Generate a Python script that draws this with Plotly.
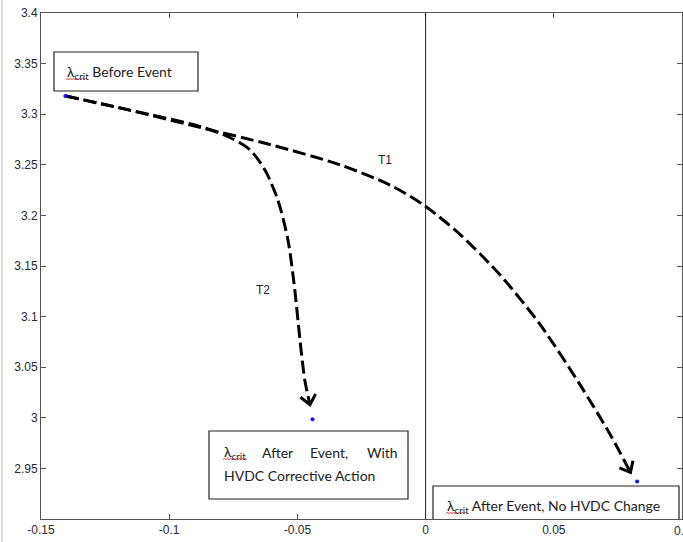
import numpy as np
import plotly.graph_objects as go

# ---------------- data ----------------
x_range = [-0.15, 0.1]
y_range = [2.9, 3.4]
x_ticks = [-0.15, -0.1, -0.05, 0.0, 0.05, 0.1]
x_tick_labels = ["-0.15", "-0.1", "-0.05", "0", "0.05", "0.1"]
y_ticks = [2.95, 3.0, 3.05, 3.1, 3.15, 3.2, 3.25, 3.3, 3.35, 3.4]
y_tick_labels = ["2.95", "3", "3.05", "3.1", "3.15", "3.2", "3.25", "3.3", "3.35", "3.4"]

points_x = [-0.1405, -0.0441, 0.0825]
points_y = [3.318, 2.9985, 2.937]

t1_x = [-0.1404, -0.1154, -0.0881, -0.0607, -0.0334, -0.0139, -0.0006,
        0.0135, 0.0291, 0.0447, 0.0604, 0.0721, 0.0799]
t1_y = [3.318, 3.304, 3.287, 3.270, 3.250, 3.230, 3.210,
        3.181, 3.141, 3.092, 3.032, 2.983, 2.946]

t2_x = [-0.1404, -0.1154, -0.0881, -0.0764, -0.0686, -0.0627, -0.0576,
        -0.0537, -0.0510, -0.0490, -0.0471, -0.0451]
t2_y = [3.318, 3.304, 3.288, 3.277, 3.265, 3.245, 3.215,
        3.176, 3.126, 3.077, 3.037, 3.013]

curve_labels = ["T1", "T2"]
curve_label_x = [-0.0158, -0.0635]
curve_label_y = [3.2547, 3.1263]

# ---------------- layout geometry ----------------
W, H = 683, 542
ML, MR, MT, MB = 41, 1, 13, 23
PW, PH = W - ML - MR, H - MT - MB


def to_px(x, y):
    px = ML + (x - x_range[0]) / (x_range[1] - x_range[0]) * PW
    py = MT + (y_range[1] - y) / (y_range[1] - y_range[0]) * PH
    return px, py


def to_data(px, py):
    x = x_range[0] + (px - ML) / PW * (x_range[1] - x_range[0])
    y = y_range[1] - (py - MT) / PH * (y_range[1] - y_range[0])
    return x, y


def arrow_head(xs, ys, length, half_angle_deg):
    tx, ty = to_px(xs[-1], ys[-1])
    sx, sy = to_px(xs[-2], ys[-2])
    ux, uy = tx - sx, ty - sy
    n = np.hypot(ux, uy)
    ux, uy = ux / n, uy / n
    out_x, out_y = [], []
    for sgn in (1, -1):
        a = np.deg2rad(half_angle_deg) * sgn
        rx = ux * np.cos(a) - uy * np.sin(a)
        ry = ux * np.sin(a) + uy * np.cos(a)
        out_x.append(tx - length * rx)
        out_y.append(ty - length * ry)
    p1 = to_data(out_x[0], out_y[0])
    p2 = to_data(out_x[1], out_y[1])
    return [p1[0], xs[-1], p2[0]], [p1[1], ys[-1], p2[1]]


fig = go.Figure()

dash_style = "13px,5px"
for cx, cy in [(t1_x, t1_y), (t2_x, t2_y)]:
    fig.add_trace(go.Scatter(x=cx, y=cy, mode="lines",
                             line=dict(color="black", width=3, dash=dash_style,
                                       shape="spline", smoothing=0.8),
                             hoverinfo="skip", showlegend=False))
    ax_, ay_ = arrow_head(cx, cy, 12, 40)
    fig.add_trace(go.Scatter(x=ax_, y=ay_, mode="lines",
                             line=dict(color="black", width=3),
                             hoverinfo="skip", showlegend=False))

fig.add_trace(go.Scatter(x=points_x, y=points_y, mode="markers",
                         marker=dict(color="#1010ff", size=4),
                         hoverinfo="skip", showlegend=False))

shapes = []
# zero line
shapes.append(dict(type="line", xref="x", yref="paper", x0=0, x1=0, y0=0, y1=1,
                   line=dict(color="#222", width=1)))
# left grey image border
shapes.append(dict(type="line", xref="paper", yref="paper",
                   x0=(2 - ML) / PW, x1=(2 - ML) / PW,
                   y0=-MB / PH, y1=1 + MT / PH,
                   line=dict(color="#bbbbbb", width=1)))

# text boxes (pixel extents converted to data)
boxes_px = [(54, 52, 198, 91), (209, 431, 408, 499), (433, 486, 679, 520)]
for (l, t, r, b) in boxes_px:
    x0, y1 = to_data(l, t)
    x1, y0 = to_data(r, b)
    shapes.append(dict(type="rect", xref="x", yref="y", x0=x0, x1=x1, y0=y0, y1=y1,
                       line=dict(color="#222", width=1.2), fillcolor="white",
                       layer="above"))

# red spell-check squiggles under "crit"
squiggles_px = [(66, 88, 79), (223, 247, 459), (446, 467, 513)]
for (xa, xb, yb) in squiggles_px:
    pts = []
    k = 0
    for px in np.arange(xa, xb + 0.01, 1.5):
        py = yb + (0.9 if k % 2 == 0 else -0.9)
        pts.append(to_data(px, py))
        k += 1
    path = "M " + " L ".join(f"{x:.6f},{y:.6f}" for x, y in pts)
    shapes.append(dict(type="path", xref="x", yref="y", path=path,
                       line=dict(color="#e02020", width=0.8), layer="above"))

box_font = dict(family="Lato, Carlito, Calibri, sans-serif", size=14, color="#222")
lam = "λ<sub>crit</sub>"
texts = [
    (lam + " Before Event", 65, 72),
    (lam, 222, 452),
    ("After", 260, 452),
    ("Event,", 308, 452),
    ("With", 365, 452),
    ("HVDC Corrective Action", 222, 475),
    (lam + " After Event, No HVDC Change", 445, 506),
]
annotations = []
for txt, px, py in texts:
    x, y = to_data(px, py)
    annotations.append(dict(x=x, y=y, xref="x", yref="y", text=txt, showarrow=False,
                            xanchor="left", yanchor="middle", font=box_font))

for lab, lx, ly in zip(curve_labels, curve_label_x, curve_label_y):
    annotations.append(dict(x=lx, y=ly, xref="x", yref="y", text=lab, showarrow=False,
                            xanchor="center", yanchor="middle",
                            font=dict(family="Liberation Sans, Arial", size=12, color="#222")))

# last x tick label, drawn partly outside the page like the reference
annotations.append(dict(x=x_ticks[-1], y=0, xref="x", yref="paper", text=x_tick_labels[-1],
                        showarrow=False, xanchor="center", yanchor="top", yshift=-3,
                        font=dict(family="Liberation Sans, Arial", size=12, color="#2a2a2a")))

axis_common = dict(showline=True, linecolor="#555", linewidth=1, mirror="ticks",
                   ticks="inside", ticklen=5, tickcolor="#555", showgrid=False,
                   zeroline=False, automargin=False,
                   tickfont=dict(family="Liberation Sans, Arial", size=12, color="#2a2a2a"))

fig.update_layout(
    width=W, height=H,
    margin=dict(l=ML, r=MR, t=MT, b=MB, pad=0, autoexpand=False),
    plot_bgcolor="white", paper_bgcolor="white",
    xaxis=dict(range=x_range, tickvals=x_ticks[:-1], ticktext=x_tick_labels[:-1], **axis_common),
    yaxis=dict(range=y_range, tickvals=y_ticks, ticktext=y_tick_labels, **axis_common),
    shapes=shapes, annotations=annotations, showlegend=False,
)

fig.write_html("out.html", config={"displayModeBar": False},
               post_script="document.body.style.margin='0px';document.body.style.overflow='hidden';")
